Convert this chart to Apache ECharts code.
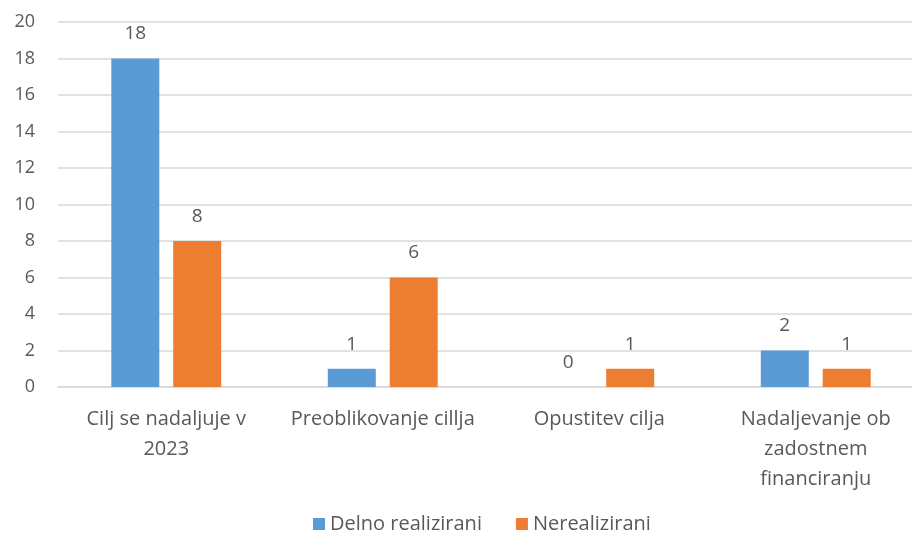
<!DOCTYPE html>
<html>
<head>
<meta charset="utf-8">
<title>Chart</title>
<style>
    html, body { margin:0; padding:0; background:#fff; overflow:hidden; }
    #main { width:924px; height:539px; }
</style>
</head>
<body>
<div id="main"></div>
<script src="https://cdn.jsdelivr.net/npm/echarts@6/dist/echarts.min.js"></script>
<script>
var categories = ['Cilj se nadaljuje v\n2023', 'Preoblikovanje cillja', 'Opustitev cilja', 'Nadaljevanje ob\nzadostnem\nfinanciranju'];
var delno = [18, 1, 0, 2];
var nereal = [8, 6, 1, 1];
var seriesNames = ['Delno realizirani', 'Nerealizirani'];

var font = '"Open Sans", "Liberation Sans", sans-serif';
var txt = '#595959';

var chart = echarts.init(document.getElementById('main'));
var option = {
    backgroundColor: '#fff',
    animation: false,
    textStyle: { fontFamily: font },
    grid: { left: 58, top: 22, right: 0, height: 365, containLabel: false },
    legend: {
        data: seriesNames,
        bottom: 0,
        left: 308,
        itemWidth: 12,
        itemHeight: 12,
        itemGap: 34,
        icon: 'rect',
        textStyle: { color: txt, fontSize: 20, fontFamily: font }
    },
    xAxis: {
        type: 'category',
        data: categories,
        axisLine: { show: true, lineStyle: { color: '#D9D9D9', width: 1.5 } },
        axisTick: { show: false },
        axisLabel: { color: txt, fontSize: 20, fontFamily: font, margin: 17, lineHeight: 30, interval: 0 }
    },
    yAxis: {
        type: 'value',
        min: 0,
        max: 20,
        interval: 2,
        axisLine: { show: false },
        axisTick: { show: false },
        axisLabel: { color: txt, fontSize: 18, fontFamily: font, margin: 23 },
        splitLine: { lineStyle: { color: '#D9D9D9', width: 1.5 } }
    },
    series: [
        {
            name: seriesNames[0],
            type: 'bar',
            data: delno,
            barWidth: 48,
            barGap: '29%',
            itemStyle: { color: '#5B9BD5' },
            label: { show: true, position: 'top', distance: 15, color: txt, fontSize: 19, fontFamily: font }
        },
        {
            name: seriesNames[1],
            type: 'bar',
            data: nereal,
            barWidth: 48,
            itemStyle: { color: '#ED7D31' },
            label: { show: true, position: 'top', distance: 15, color: txt, fontSize: 19, fontFamily: font }
        }
    ]
};
chart.setOption(option);
</script>
</body>
</html>
